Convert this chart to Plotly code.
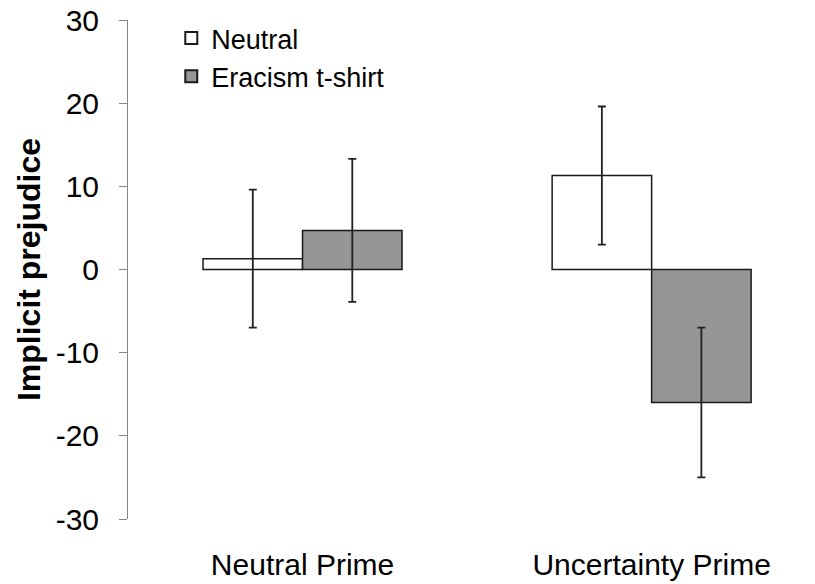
import plotly.graph_objects as go

categories = ["Neutral Prime", "Uncertainty Prime"]
series_names = ["Neutral", "Eracism t-shirt"]
neutral_vals = [1.3, 11.3]
neutral_err = [8.3, 8.3]
eracism_vals = [4.7, -16.0]
eracism_err = [8.6, 9.0]
y_ticks = [-30, -20, -10, 0, 10, 20, 30]
y_tick_labels = [str(v) for v in y_ticks]

FONT = "Arial, Liberation Sans, sans-serif"
AXIS_GRAY = "#868686"

fig = go.Figure()
fig.add_trace(go.Bar(
    name=series_names[0], x=categories, y=neutral_vals,
    marker=dict(color="white", line=dict(color="#1a1a1a", width=1.5)),
    error_y=dict(type="data", array=neutral_err, visible=True,
                 color="#222222", thickness=1.8, width=4),
))
fig.add_trace(go.Bar(
    name=series_names[1], x=categories, y=eracism_vals,
    marker=dict(color="#969696", line=dict(color="#1a1a1a", width=1.5)),
    error_y=dict(type="data", array=eracism_err, visible=True,
                 color="#222222", thickness=1.8, width=4),
))

xrange = [-0.5, 1.468]

fig.update_layout(
    width=815, height=584,
    margin=dict(l=128, r=0, t=20, b=65, autoexpand=False),
    paper_bgcolor="white", plot_bgcolor="white",
    barmode="group", bargap=0.43, bargroupgap=0,
    font=dict(family=FONT, color="black", size=28),
    showlegend=True,
    legend=dict(x=0.063, y=1.012, xanchor="left", yanchor="top",
                bgcolor="rgba(0,0,0,0)", font=dict(size=27, family=FONT),
                tracegroupgap=0, itemsizing="constant"),
    xaxis=dict(range=xrange, showline=False, ticks="", showgrid=False,
               zeroline=False, tickfont=dict(size=30, family=FONT),
               ticklabelstandoff=25),
    xaxis2=dict(range=xrange, overlaying="x", anchor="free", position=0.5,
                showline=True, linecolor=AXIS_GRAY, linewidth=1,
                ticks="outside", tickcolor=AXIS_GRAY, ticklen=10,
                tickvals=[0.5], showticklabels=False, showgrid=False,
                zeroline=False),
    yaxis=dict(range=[-30, 30], tickvals=y_ticks, ticktext=y_tick_labels,
               showgrid=False, ticklabeloverflow="allow",
               zeroline=False, showline=True, linecolor=AXIS_GRAY, linewidth=1,
               ticks="outside", tickcolor=AXIS_GRAY, ticklen=8,
               tickfont=dict(size=30, family=FONT), ticklabelstandoff=14,
               title=dict(text="<b>Implicit prejudice</b>",
                          font=dict(size=32, family=FONT), standoff=5)),
)

fig.write_html("out.html", config={"displayModeBar": False},
               post_script="document.body.style.margin='0';document.body.style.padding='0';")
